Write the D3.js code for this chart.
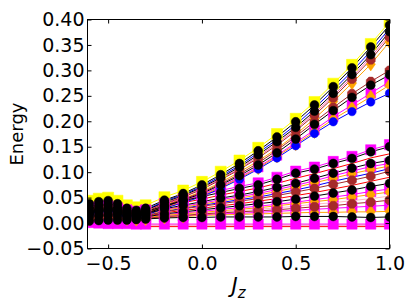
<!DOCTYPE html>
<meta charset="utf-8">
<style>
	body { margin: 0; background: #fff; }
	text { font-family: "DejaVu Sans", sans-serif; }
</style>
<div id="vis"></div>
<script src="https://cdnjs.cloudflare.com/ajax/libs/d3/7.8.5/d3.min.js"></script>
<script>
	// Jz values (denser sampling on the left)
	const jz = [-0.6, -0.55, -0.5, -0.45, -0.4, -0.35, -0.3, -0.2, -0.1, 0.0, 0.1, 0.2, 0.3, 0.4, 0.5, 0.6, 0.7, 0.8, 0.9, 1.0];

	// upper branch
	const topYellow = [0.044, 0.048, 0.050, 0.044, 0.035, 0.031, 0.035, 0.051, 0.064, 0.081, 0.101, 0.123, 0.148, 0.175, 0.205, 0.238, 0.274, 0.311, 0.352, 0.395];
	const topA = [0.038, 0.042, 0.044, 0.038, 0.029, 0.025, 0.029, 0.045, 0.058, 0.075, 0.095, 0.117, 0.142, 0.169, 0.199, 0.232, 0.268, 0.305, 0.346, 0.389];
	const topBlue = [0.033, 0.037, 0.039, 0.033, 0.026, 0.022, 0.026, 0.043, 0.056, 0.072, 0.092, 0.113, 0.138, 0.164, 0.193, 0.226, 0.261, 0.298, 0.338, 0.382];
	const topB = [0.031, 0.035, 0.037, 0.031, 0.024, 0.021, 0.025, 0.041, 0.054, 0.070, 0.089, 0.110, 0.134, 0.160, 0.188, 0.220, 0.255, 0.292, 0.331, 0.376];
	const topPink = [0.029, 0.033, 0.035, 0.029, 0.022, 0.019, 0.023, 0.039, 0.052, 0.068, 0.087, 0.107, 0.131, 0.156, 0.184, 0.216, 0.250, 0.287, 0.326, 0.370];
	const topC = [0.027, 0.031, 0.033, 0.027, 0.021, 0.018, 0.022, 0.038, 0.051, 0.066, 0.085, 0.105, 0.128, 0.153, 0.181, 0.212, 0.246, 0.283, 0.321, 0.365];
	const topD = [0.023, 0.027, 0.029, 0.023, 0.018, 0.016, 0.020, 0.035, 0.048, 0.062, 0.080, 0.100, 0.122, 0.146, 0.174, 0.205, 0.239, 0.275, 0.312, 0.356];

	// middle branch
	const midA = [0.021, 0.025, 0.027, 0.021, 0.017, 0.015, 0.019, 0.034, 0.047, 0.060, 0.077, 0.096, 0.118, 0.143, 0.170, 0.199, 0.227, 0.254, 0.278, 0.300];
	const midB = [0.020, 0.024, 0.026, 0.020, 0.016, 0.014, 0.018, 0.032, 0.045, 0.058, 0.075, 0.093, 0.114, 0.138, 0.165, 0.194, 0.221, 0.247, 0.271, 0.291];
	const midC = [0.019, 0.023, 0.025, 0.019, 0.015, 0.013, 0.017, 0.031, 0.043, 0.056, 0.072, 0.090, 0.110, 0.133, 0.158, 0.183, 0.209, 0.232, 0.255, 0.278];
	const midD = [0.018, 0.022, 0.024, 0.018, 0.015, 0.013, 0.016, 0.030, 0.041, 0.054, 0.070, 0.088, 0.108, 0.131, 0.155, 0.179, 0.204, 0.226, 0.248, 0.271];
	const midE = [0.017, 0.021, 0.023, 0.017, 0.014, 0.012, 0.015, 0.029, 0.040, 0.052, 0.068, 0.086, 0.106, 0.128, 0.152, 0.176, 0.199, 0.219, 0.238, 0.255];

	// lower branch
	const lowMagTop = [0.029, 0.032, 0.034, 0.030, 0.026, 0.023, 0.026, 0.038, 0.048, 0.056, 0.064, 0.072, 0.079, 0.090, 0.102, 0.110, 0.121, 0.131, 0.144, 0.154];
	const lowA = [0.025, 0.028, 0.030, 0.026, 0.022, 0.019, 0.022, 0.034, 0.044, 0.052, 0.060, 0.068, 0.075, 0.086, 0.098, 0.106, 0.117, 0.127, 0.140, 0.150];
	const lowRed1 = [0.023, 0.026, 0.027, 0.024, 0.020, 0.018, 0.020, 0.031, 0.040, 0.047, 0.055, 0.062, 0.069, 0.078, 0.088, 0.097, 0.107, 0.117, 0.128, 0.136];
	const lowB = [0.020, 0.023, 0.025, 0.021, 0.018, 0.016, 0.018, 0.028, 0.035, 0.042, 0.049, 0.055, 0.062, 0.070, 0.078, 0.088, 0.098, 0.108, 0.117, 0.123];
	const lowMag2 = [0.019, 0.022, 0.023, 0.020, 0.017, 0.015, 0.017, 0.026, 0.033, 0.039, 0.046, 0.052, 0.058, 0.066, 0.074, 0.083, 0.093, 0.102, 0.111, 0.117];
	const lowO1 = [0.018, 0.021, 0.022, 0.019, 0.016, 0.014, 0.016, 0.025, 0.031, 0.037, 0.043, 0.049, 0.055, 0.062, 0.070, 0.079, 0.088, 0.097, 0.105, 0.112];
	const lowBlue = [0.017, 0.019, 0.021, 0.018, 0.015, 0.013, 0.015, 0.023, 0.029, 0.035, 0.040, 0.046, 0.051, 0.058, 0.065, 0.073, 0.082, 0.090, 0.098, 0.107];
	const lowC = [0.016, 0.018, 0.020, 0.017, 0.014, 0.012, 0.014, 0.022, 0.028, 0.033, 0.038, 0.043, 0.048, 0.054, 0.061, 0.068, 0.076, 0.084, 0.092, 0.102];
	const lowRed2 = [0.014, 0.016, 0.018, 0.015, 0.013, 0.011, 0.013, 0.020, 0.025, 0.029, 0.034, 0.038, 0.043, 0.048, 0.054, 0.060, 0.067, 0.074, 0.082, 0.090];
	const lowD = [0.013, 0.015, 0.016, 0.014, 0.012, 0.010, 0.012, 0.018, 0.022, 0.026, 0.030, 0.034, 0.038, 0.042, 0.047, 0.053, 0.059, 0.065, 0.072, 0.078];
	const lowMag3 = [0.012, 0.014, 0.015, 0.013, 0.011, 0.010, 0.011, 0.016, 0.020, 0.023, 0.027, 0.030, 0.033, 0.037, 0.041, 0.046, 0.051, 0.056, 0.062, 0.067];
	const lowO2 = [0.011, 0.013, 0.014, 0.012, 0.010, 0.009, 0.010, 0.015, 0.018, 0.021, 0.024, 0.027, 0.030, 0.034, 0.038, 0.042, 0.046, 0.051, 0.056, 0.061];
	const lowPink = [0.010, 0.012, 0.013, 0.011, 0.010, 0.009, 0.010, 0.014, 0.017, 0.019, 0.022, 0.024, 0.027, 0.030, 0.033, 0.037, 0.040, 0.044, 0.048, 0.053];
	const lowE = [0.009, 0.011, 0.012, 0.010, 0.009, 0.008, 0.009, 0.013, 0.015, 0.018, 0.020, 0.022, 0.024, 0.026, 0.029, 0.032, 0.034, 0.038, 0.041, 0.045];
	const lowMag4 = [0.008, 0.010, 0.011, 0.010, 0.008, 0.008, 0.009, 0.012, 0.014, 0.016, 0.018, 0.019, 0.021, 0.023, 0.025, 0.027, 0.029, 0.031, 0.033, 0.035];
	const lowO3 = [0.008, 0.009, 0.010, 0.009, 0.008, 0.007, 0.008, 0.011, 0.013, 0.015, 0.016, 0.017, 0.018, 0.019, 0.020, 0.021, 0.021, 0.022, 0.022, 0.023];
	const lowF = [0.004, 0.005, 0.006, 0.006, 0.006, 0.007, 0.008, 0.010, 0.011, 0.011, 0.012, 0.012, 0.012, 0.012, 0.013, 0.013, 0.013, 0.012, 0.011, 0.012];
	const lowMagBottom = [0.001, 0.000, -0.001, -0.001, -0.001, -0.002, -0.002, -0.002, -0.002, -0.002, -0.002, -0.002, -0.002, -0.002, -0.002, -0.002, -0.002, -0.002, -0.002, -0.002];
	const bottomPink = [-0.003, -0.004, -0.004, -0.004, -0.004, -0.004, -0.004, -0.004, -0.004, -0.004, -0.004, -0.004, -0.004, -0.004, -0.004, -0.004, -0.004, -0.004, -0.004, -0.004];
	const bottomRed = [-0.006, -0.007, -0.007, -0.007, -0.007, -0.007, -0.007, -0.007, -0.007, -0.007, -0.007, -0.007, -0.007, -0.007, -0.007, -0.007, -0.007, -0.007, -0.007, -0.007];

	const yTicks = [-0.05, 0.00, 0.05, 0.10, 0.15, 0.20, 0.25, 0.30, 0.35, 0.40];
	const xTicks = [-0.5, 0.0, 0.5, 1.0];

	// series table: values, colour, marker (null = line only), layer of marker
	const series = [
		{ v: topYellow, c: '#ffff00', m: 'square', s: 120, layer: 0 },
		{ v: lowMagTop, c: '#ff00ff', m: 'square', s: 105, layer: 1 },
		{ v: lowMag2, c: '#ff00ff', m: 'square', s: 105, layer: 1 },
		{ v: lowMag3, c: '#ff00ff', m: 'square', s: 105, layer: 1 },
		{ v: lowMag4, c: '#ff00ff', m: 'square', s: 105, layer: 1 },
		{ v: lowMagBottom, c: '#ff00ff', m: 'square', s: 105, layer: 1 },
		{ v: midC, c: '#ff00ff', m: 'square', s: 95, layer: 1 },
		{ v: bottomRed, c: '#ff0000', m: null },
		{ v: bottomPink, c: '#ff69b4', m: null },
		{ v: topBlue, c: '#0000ff', m: null },
		{ v: topPink, c: '#ff69b4', m: null },
		{ v: lowRed1, c: '#ff0000', m: null },
		{ v: lowBlue, c: '#0000ff', m: null },
		{ v: lowRed2, c: '#ff0000', m: null },
		{ v: lowPink, c: '#ffb6c1', m: null },
		{ v: topD, c: '#ffa500', m: 'diamond', s: 85, layer: 2 },
		{ v: midD, c: '#ffa500', m: 'diamond', s: 85, layer: 2 },
		{ v: lowO1, c: '#ffa500', m: 'diamond', s: 85, layer: 2 },
		{ v: lowO2, c: '#ffa500', m: 'diamond', s: 85, layer: 2 },
		{ v: lowO3, c: '#ffa500', m: 'diamond', s: 85, layer: 2 },
		{ v: topC, c: '#a52a2a', m: 'octagon', s: 75, layer: 3 },
		{ v: midA, c: '#a52a2a', m: 'octagon', s: 75, layer: 3 },
		{ v: lowC, c: '#a52a2a', m: 'octagon', s: 75, layer: 3 },
		{ v: lowE, c: '#a52a2a', m: 'octagon', s: 75, layer: 3 },
		{ v: midE, c: '#0000ff', m: 'circle', s: 56, layer: 4 },
		{ v: topA, c: '#000000', m: 'circle', s: 62, layer: 5 },
		{ v: topB, c: '#000000', m: 'circle', s: 62, layer: 5 },
		{ v: midB, c: '#000000', m: 'circle', s: 62, layer: 5 },
		{ v: lowA, c: '#000000', m: 'circle', s: 62, layer: 5 },
		{ v: lowB, c: '#000000', m: 'circle', s: 62, layer: 5 },
		{ v: lowD, c: '#000000', m: 'circle', s: 62, layer: 5 },
		{ v: lowF, c: '#000000', m: 'circle', s: 62, layer: 5 }
	];

	const width = 411, height = 308;
	const pLeft = 87.5, pRight = 389.5, pTop = 19.5, pBottom = 248.5;

	const svg = d3.select('#vis').append('svg')
		.attr('width', width)
		.attr('height', height);

	const x = d3.scaleLinear().domain([-0.61, 1.0]).range([pLeft, pRight]);
	const y = d3.scaleLinear().domain([-0.05, 0.40]).range([pBottom, pTop]);

	// custom marker shapes
	const octagon = {
		draw(ctx, size) {
			const r = Math.sqrt(size) * 0.56;
			for (let i = 0; i < 8; i++) {
				const a = Math.PI / 8 + i * Math.PI / 4;
				if (i == 0) ctx.moveTo(r * Math.cos(a), r * Math.sin(a));
				else ctx.lineTo(r * Math.cos(a), r * Math.sin(a));
			}
			ctx.closePath();
		}
	};
	const thinDiamond = {
		draw(ctx, size) {
			const w = Math.sqrt(size) * 0.5, h = Math.sqrt(size) * 0.72;
			ctx.moveTo(0, -h);
			ctx.lineTo(w, 0);
			ctx.lineTo(0, h);
			ctx.lineTo(-w, 0);
			ctx.closePath();
		}
	};
	const shapes = { square: d3.symbolSquare, circle: d3.symbolCircle, diamond: thinDiamond, octagon: octagon };

	svg.append('clipPath').attr('id', 'plot-clip')
		.append('rect')
		.attr('x', pLeft).attr('y', pTop)
		.attr('width', pRight - pLeft).attr('height', pBottom - pTop);

	const plot = svg.append('g').attr('clip-path', 'url(#plot-clip)');

	const line = d3.line()
		.x((d, i) => x(jz[i]))
		.y(d => y(d));

	// lines first
	plot.append('g').selectAll('path')
		.data(series)
		.enter()
		.append('path')
		.attr('d', d => line(d.v))
		.attr('fill', 'none')
		.attr('stroke', d => d.c)
		.attr('stroke-width', 1);

	// markers, by layer
	const marked = series.filter(d => d.m).sort((a, b) => a.layer - b.layer);
	marked.forEach(function (sr) {
		const sym = d3.symbol().type(shapes[sr.m]).size(sr.s);
		plot.append('g').selectAll('path')
			.data(sr.v)
			.enter()
			.append('path')
			.attr('transform', (d, i) => 'translate(' + x(jz[i]) + ',' + y(d) + ')')
			.attr('d', sym())
			.attr('fill', sr.c)
			.attr('stroke', sr.c)
			.attr('stroke-width', 0.5);
	});

	// axes with inward ticks on all four sides
	const fmtY = d => d3.format('.2f')(d).replace('-', '\u2212');
	const fmtX = d => d3.format('.1f')(d).replace('-', '\u2212');

	const gLeft = svg.append('g')
		.attr('transform', 'translate(' + pLeft + ',0)')
		.call(d3.axisLeft(y).tickValues(yTicks).tickFormat(fmtY).tickSizeInner(-4).tickSizeOuter(0).tickPadding(3));
	const gBottom = svg.append('g')
		.attr('transform', 'translate(0,' + pBottom + ')')
		.call(d3.axisBottom(x).tickValues(xTicks).tickFormat(fmtX).tickSizeInner(-4).tickSizeOuter(0).tickPadding(8));
	const gRight = svg.append('g')
		.attr('transform', 'translate(' + pRight + ',0)')
		.call(d3.axisRight(y).tickValues(yTicks).tickFormat('').tickSizeInner(-4).tickSizeOuter(0));
	const gTop = svg.append('g')
		.attr('transform', 'translate(0,' + pTop + ')')
		.call(d3.axisTop(x).tickValues(xTicks).tickFormat('').tickSizeInner(-4).tickSizeOuter(0));

	[gLeft, gBottom, gRight, gTop].forEach(g => {
		g.select('.domain').remove();
		g.selectAll('text').attr('font-family', '"DejaVu Sans", sans-serif').attr('font-size', 19).attr('fill', '#000');
		g.selectAll('line').attr('stroke', '#000');
	});

	svg.append('rect')
		.attr('x', pLeft).attr('y', pTop)
		.attr('width', pRight - pLeft).attr('height', pBottom - pTop)
		.attr('fill', 'none')
		.attr('stroke', '#000')
		.attr('stroke-width', 1);

	// axis labels
	svg.append('text')
		.attr('transform', 'translate(23,' + (pTop + pBottom) / 2 + ') rotate(-90)')
		.attr('text-anchor', 'middle')
		.attr('font-size', 18)
		.text('Energy');

	const xl = svg.append('text')
		.attr('x', (pLeft + pRight) / 2)
		.attr('y', 293)
		.attr('text-anchor', 'middle')
		.attr('font-family', '"Liberation Serif", serif')
		.attr('font-style', 'italic')
		.attr('font-size', 21);
	xl.append('tspan').text('J');
	xl.append('tspan').attr('font-size', 15).attr('dy', 5).text('z');
</script>
